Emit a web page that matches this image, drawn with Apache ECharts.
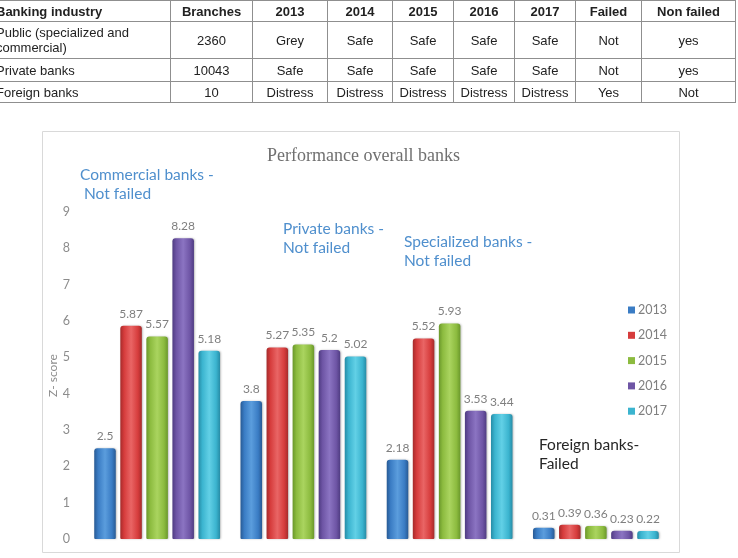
<!DOCTYPE html>
<html>
<head>
<meta charset="utf-8">
<script src="https://cdn.jsdelivr.net/npm/echarts/dist/echarts.min.js"></script>
<style>
  html, body { margin: 0; padding: 0; background: #fff; }
  body { width: 738px; height: 558px; position: relative; overflow: hidden; }
  #chart { position: absolute; left: 0; top: 0; width: 738px; height: 558px; }
  #tbl { position: absolute; left: -10px; top: 0; z-index: 2; }
  table { border-collapse: collapse; table-layout: fixed; font-family: "Liberation Sans", Arial, sans-serif; font-size: 13px; color: #222; }
  td, th { border: 1px solid #8f8f8f; text-align: center; padding: 0 4px; line-height: 15px; }
  th { font-weight: bold; height: 20px; }
  td:first-child, th:first-child { text-align: left; padding-left: 5px; }
  tr.r1 td { height: 36px; }
  tr.r2 td { height: 22px; }
  tr.r3 td { height: 20px; }
</style>
</head>
<body>
<div id="tbl"></div>
<div id="chart"></div>
<script>
// table text
const tableHead = ['Banking industry', 'Branches', '2013', '2014', '2015', '2016', '2017', 'Failed', 'Non failed'];
const rowPublic = ['Public (specialized and commercial)', '2360', 'Grey', 'Safe', 'Safe', 'Safe', 'Safe', 'Not', 'yes'];
const rowPrivate = ['Private banks', '10043', 'Safe', 'Safe', 'Safe', 'Safe', 'Safe', 'Not', 'yes'];
const rowForeign = ['Foreign banks', '10', 'Distress', 'Distress', 'Distress', 'Distress', 'Distress', 'Yes', 'Not'];
const colWidths = [180, 82, 75, 65, 61, 61, 61, 66, 94];

// chart data
const categories = ['Commercial banks', 'Private banks', 'Specialized banks', 'Foreign banks'];
const years = ['2013', '2014', '2015', '2016', '2017'];
const z2013 = [2.5, 3.8, 2.18, 0.31];
const z2014 = [5.87, 5.27, 5.52, 0.39];
const z2015 = [5.57, 5.35, 5.93, 0.36];
const z2016 = [8.28, 5.2, 3.53, 0.23];
const z2017 = [5.18, 5.02, 3.44, 0.22];
const notes = ['Commercial banks -\n Not failed', 'Private banks -\nNot failed', 'Specialized banks -\nNot failed', 'Foreign banks-\nFailed'];

// build table
let html = '<table><colgroup>' + colWidths.map(w => '<col style="width:' + w + 'px">').join('') + '</colgroup>';
html += '<tr>' + tableHead.map(t => '<th>' + t + '</th>').join('') + '</tr>';
[rowPublic, rowPrivate, rowForeign].forEach((r, i) => {
  html += '<tr class="r' + (i + 1) + '">' + r.map(t => '<td>' + t + '</td>').join('') + '</tr>';
});
html += '</table>';
document.getElementById('tbl').innerHTML = html;

// bevel-ish colours: dark edge, base, light centre
const shades = [
  ['#285a94', '#3a7cc4', '#5b9ddd'],
  ['#a52b2b', '#d63c3c', '#e96565'],
  ['#6a982b', '#8cbb3f', '#aad45f'],
  ['#4f3c82', '#6e55a5', '#8b74c2'],
  ['#278ca6', '#3bb4cf', '#62d0e6']
];
function grad(s) {
  return new echarts.graphic.LinearGradient(0, 0, 1, 0, [
    { offset: 0, color: s[0] },
    { offset: 0.18, color: s[1] },
    { offset: 0.5, color: s[2] },
    { offset: 0.82, color: s[1] },
    { offset: 1, color: s[0] }
  ]);
}

const values = [z2013, z2014, z2015, z2016, z2017];
const series = years.map((y, i) => ({
  name: y,
  type: 'bar',
  data: values[i],
  barGap: '21%',
  barCategoryGap: '14%',
  itemStyle: {
    color: grad(shades[i]),
    borderRadius: [3, 3, 1, 1],
    shadowBlur: 2,
    shadowColor: 'rgba(0,0,0,0.25)',
    shadowOffsetX: 1
  },
  label: {
    show: true,
    position: 'top',
    distance: 6,
    color: '#7f7f7f',
    fontFamily: 'Lato',
    fontSize: 12
  }
}));

const noteFont = '15.5px Lato';
const notePos = [[80, 165], [283, 219], [404, 232], [539, 435]];
const noteColor = ['#4f8fcd', '#4f8fcd', '#4f8fcd', '#262626'];

const chart = echarts.init(document.getElementById('chart'));
chart.setOption({
  animation: false,
  title: {
    text: 'Performance overall banks',
    left: 262,
    top: 142,
    textStyle: { fontFamily: 'Liberation Serif', fontSize: 18, fontWeight: 'normal', color: '#707070' }
  },
  legend: {
    orient: 'vertical',
    left: 623,
    top: 298,
    itemWidth: 7,
    itemHeight: 7,
    itemGap: 11.3,
    icon: 'rect',
    data: years.map((y, i) => ({ name: y, itemStyle: { color: shades[i][1] } })),
    textStyle: { color: '#7f7f7f', fontFamily: 'Lato', fontSize: 12.5, lineHeight: 14, padding: [0, 0, 0, -2] }
  },
  grid: { left: 84, right: 69, top: 212, bottom: 19 },
  xAxis: {
    type: 'category',
    data: categories,
    axisLine: { show: false },
    axisTick: { show: false },
    axisLabel: { show: false }
  },
  yAxis: {
    type: 'value',
    min: 0,
    max: 9,
    interval: 1,
    name: 'Z- score',
    nameLocation: 'middle',
    nameRotate: 90,
    nameGap: 25,
    nameMoveOverlap: false,
    nameTextStyle: { color: '#8c8c8c', fontFamily: 'Lato', fontSize: 12 },
    axisLine: { show: false },
    axisTick: { show: false },
    splitLine: { show: false },
    axisLabel: { color: '#8c8c8c', fontFamily: 'Lato', fontSize: 12.5, margin: 14 }
  },
  graphic: [
    {
      type: 'rect',
      shape: { x: 42.5, y: 131.5, width: 637, height: 421 },
      style: { fill: 'none', stroke: '#d9d9d9', lineWidth: 1 },
      silent: true
    }
  ].concat(notes.map((t, i) => ({
    type: 'text',
    x: notePos[i][0],
    y: notePos[i][1],
    style: { text: t, font: noteFont, fill: noteColor[i], lineHeight: 19 },
    silent: true
  }))),
  series: series
});
</script>
</body>
</html>
